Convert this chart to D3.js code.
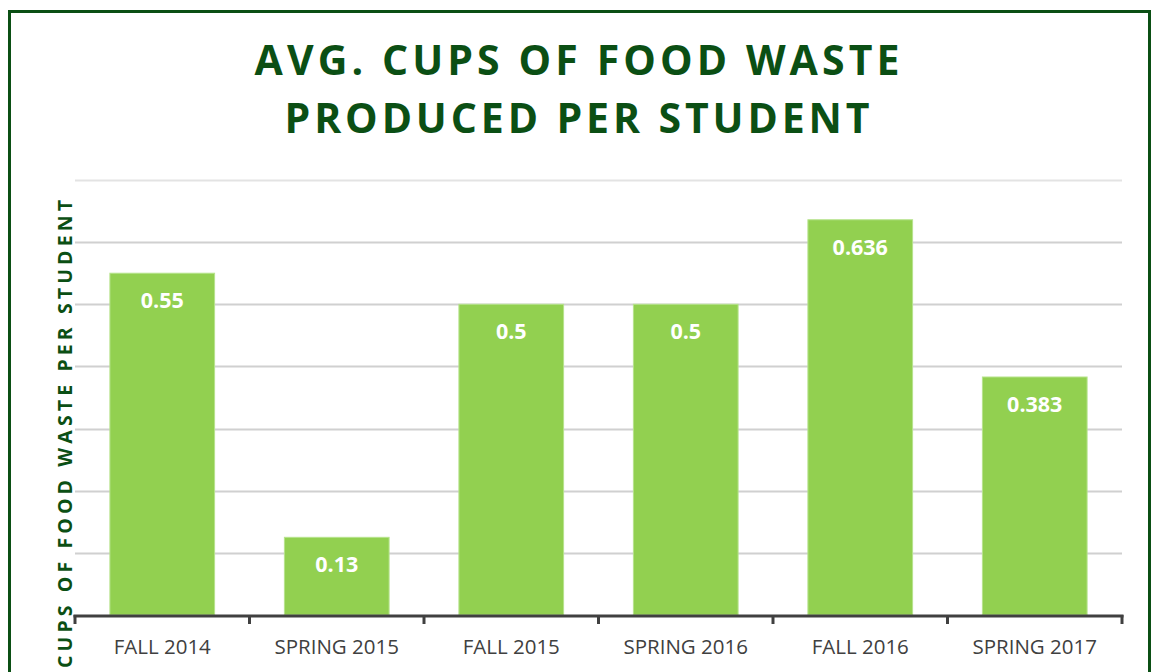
<!DOCTYPE html>
<html>
<head>
<meta charset="utf-8">
<script src="https://cdn.jsdelivr.net/npm/d3@7"></script>
<style>
  html, body { margin: 0; padding: 0; background: #fff; }
  svg { display: block; }
</style>
</head>
<body>
<svg id="chart" width="1152" height="672"></svg>
<script>
const categories = ["FALL 2014", "SPRING 2015", "FALL 2015", "SPRING 2016", "FALL 2016", "SPRING 2017"];
const values = [0.55, 0.125, 0.5, 0.5, 0.636, 0.383];
const valueLabels = ["0.55", "0.13", "0.5", "0.5", "0.636", "0.383"];
const yTicks = [0.1, 0.2, 0.3, 0.4, 0.5, 0.6, 0.7];
const titleLines = ["AVG. CUPS OF FOOD WASTE", "PRODUCED PER STUDENT"];
const yTitle = "CUPS OF FOOD WASTE PER STUDENT";

const svg = d3.select("#chart");
const W = 1152, H = 672;
const green = "#0B4F14";

svg.append("rect").attr("x", 0).attr("y", 0).attr("width", W).attr("height", H).attr("fill", "#fff");
svg.append("rect")
  .attr("x", 9.5).attr("y", 11.5).attr("width", 1140).attr("height", 700)
  .attr("fill", "none").attr("stroke", green).attr("stroke-width", 3);

const plot = { left: 75, right: 1122, top: 180, bottom: 615 };

const x = d3.scaleBand().domain(categories).range([plot.left, plot.right]).paddingInner(0.4).paddingOuter(0.2);
const y = d3.scaleLinear().domain([0, 0.7]).range([plot.bottom, plot.top]);

// title
const titleWidths = [645, 585];
svg.selectAll("text.title").data(titleLines).enter().append("text")
  .attr("class", "title")
  .attr("x", 577).attr("y", (d, i) => 75 + i * 58)
  .attr("text-anchor", "middle")
  .attr("font-family", "'Open Sans', sans-serif")
  .attr("font-weight", 700)
  .attr("font-size", 41)
  .attr("fill", green)
  .attr("textLength", (d, i) => titleWidths[i])
  .attr("lengthAdjust", "spacing")
  .text(d => d);

// gridlines
svg.append("g").selectAll("line").data(yTicks).enter().append("line")
  .attr("x1", plot.left).attr("x2", plot.right)
  .attr("y1", d => Math.round(y(d)) + 0.5).attr("y2", d => Math.round(y(d)) + 0.5)
  .attr("stroke", (d, i) => i === yTicks.length - 1 ? "#e3e3e3" : "#d0d0d0")
  .attr("stroke-width", 2);

// bars
svg.append("g").selectAll("rect").data(values).enter().append("rect")
  .attr("x", (d, i) => x(categories[i]))
  .attr("y", d => y(d))
  .attr("width", x.bandwidth())
  .attr("height", d => y(0) - y(d))
  .attr("fill", "#92D050")
  .attr("stroke", "#b6e38c")
  .attr("stroke-width", 1);

// value labels
svg.append("g").selectAll("text").data(values).enter().append("text")
  .attr("x", (d, i) => x(categories[i]) + x.bandwidth() / 2)
  .attr("y", d => y(d) + 35)
  .attr("text-anchor", "middle")
  .attr("font-family", "'Open Sans', sans-serif")
  .attr("font-weight", 700)
  .attr("font-size", 21.5)
  .attr("fill", "#fff")
  .text((d, i) => valueLabels[i]);

// x axis
const ax = svg.append("g");
ax.append("line")
  .attr("x1", plot.left - 1.5).attr("x2", plot.right + 1.5)
  .attr("y1", plot.bottom + 1).attr("y2", plot.bottom + 1)
  .attr("stroke", "#404040").attr("stroke-width", 3);
const boundaries = categories.map(c => x(c) - x.step() * x.paddingInner() / 2).concat([plot.right]);
boundaries[0] = plot.left;
ax.selectAll("line.tick").data(boundaries).enter().append("line")
  .attr("class", "tick")
  .attr("x1", d => d).attr("x2", d => d)
  .attr("y1", plot.bottom).attr("y2", plot.bottom + 9)
  .attr("stroke", "#404040").attr("stroke-width", 3);
ax.selectAll("text").data(categories).enter().append("text")
  .attr("x", d => x(d) + x.bandwidth() / 2)
  .attr("y", 654)
  .attr("text-anchor", "middle")
  .attr("font-family", "'Open Sans', sans-serif")
  .attr("font-size", 20.5)
  .attr("fill", "#404040")
  .text(d => d);

// y title
svg.append("text")
  .attr("transform", "translate(72,434) rotate(-90)")
  .attr("text-anchor", "middle")
  .attr("font-family", "'Open Sans', sans-serif")
  .attr("font-weight", 700)
  .attr("font-size", 19.5)
  .attr("fill", green)
  .attr("textLength", 468)
  .attr("lengthAdjust", "spacing")
  .text(yTitle);
</script>
</body>
</html>
